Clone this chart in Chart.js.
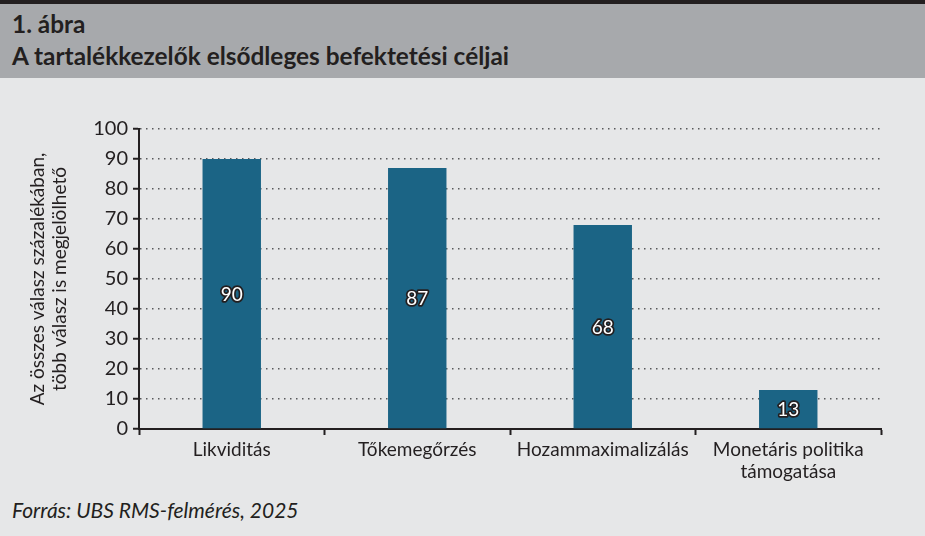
<!DOCTYPE html>
<html>
<head>
<meta charset="utf-8">
<script src="https://cdn.jsdelivr.net/npm/chart.js@4"></script>
<style>
  html, body { margin: 0; padding: 0; }
  body { width: 925px; height: 536px; background: #e6e7e8; position: relative; overflow: hidden; font-family: Lato, sans-serif; }
  .topline { position: absolute; left: 0; top: 0; width: 925px; height: 4px; background: #231f20; }
  .header { position: absolute; left: 0; top: 4px; width: 925px; height: 74px; background: #a7a9ac; }
  .header div { position: absolute; left: 12px; font-weight: bold; font-size: 24.4px; color: #231f20; line-height: 1; }
  .footer { position: absolute; left: 12px; top: 499px; font-style: italic; font-size: 21px; color: #231f20; line-height: 1; }
  .wrap { position: absolute; left: 0; top: 100px; width: 925px; height: 390px; }
</style>
</head>
<body>
<div class="topline"></div>
<div class="header">
  <div style="top:8px">1. ábra</div>
  <div style="top:40px">A tartalékkezelők elsődleges befektetési céljai</div>
</div>
<div class="wrap"><canvas id="chart"></canvas></div>
<div class="footer">Forrás: UBS RMS-felmérés, 2025</div>
<script>
const categories = ['Likviditás', 'Tőkemegőrzés', 'Hozammaximalizálás', ['Monetáris politika', 'támogatása']];
const values = [90, 87, 68, 13];
const axisTitle = ['Az összes válasz százalékában,', 'több válasz is megjelölhető'];

const barLabels = {
  id: 'barLabels',
  afterDatasetsDraw(chart) {
    const ctx = chart.ctx;
    const meta = chart.getDatasetMeta(0);
    ctx.save();
    ctx.font = '19px Lato';
    ctx.textAlign = 'center';
    ctx.textBaseline = 'middle';
    ctx.lineJoin = 'round';
    meta.data.forEach((bar, i) => {
      const y = (bar.y + bar.base) / 2 + 1;
      ctx.lineWidth = 3.5;
      ctx.strokeStyle = '#231f20';
      ctx.strokeText(values[i], bar.x, y);
      ctx.fillStyle = '#ffffff';
      ctx.fillText(values[i], bar.x, y);
    });
    ctx.restore();
  }
};

new Chart(document.getElementById('chart'), {
  type: 'bar',
  data: {
    labels: categories,
    datasets: [{
      data: values,
      backgroundColor: '#1b6485',
      borderWidth: 0,
      categoryPercentage: 1,
      barPercentage: 0.315
    }]
  },
  plugins: [barLabels],
  options: {
    responsive: true,
    maintainAspectRatio: false,
    animation: false,
    layout: { padding: { top: 29, right: 44, bottom: 0, left: 27 } },
    plugins: { legend: { display: false }, tooltip: { enabled: false } },
    scales: {
      x: {
        grid: { drawOnChartArea: false, drawTicks: true, tickLength: 6, tickColor: '#231f20', tickWidth: 2 },
        border: { color: '#231f20', width: 2 },
        ticks: { color: '#231f20', font: { family: 'Lato', size: 19, lineHeight: 1.15 }, maxRotation: 0, padding: 4 },
        afterFit(scale) { scale.height = 61; }
      },
      y: {
        min: 0, max: 100,
        ticks: { stepSize: 10, color: '#231f20', font: { family: 'Lato', size: 20 }, padding: 5 },
        grid: {
          color: (c) => c.tick.value === 0 ? 'rgba(0,0,0,0)' : '#58595b',
          lineWidth: 1.5, tickColor: '#231f20', tickWidth: 2, tickLength: 6, tickBorderDash: []
        },
        border: { color: '#231f20', width: 2, dash: [1.5, 4.5] },
        title: { display: true, text: axisTitle, color: '#231f20', font: { family: 'Lato', size: 19, lineHeight: 1.15 }, padding: { top: 0, bottom: 4 } },
        afterFit(scale) { scale.width = 112; }
      }
    }
  }
});
</script>
</body>
</html>
